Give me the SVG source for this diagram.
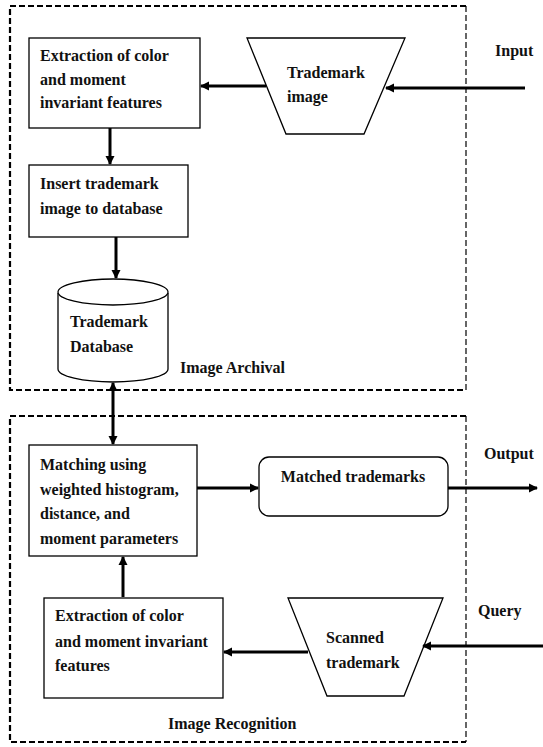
<svg xmlns="http://www.w3.org/2000/svg" width="543" height="747" viewBox="0 0 543 747">
<defs>
<style>
.t{font-family:"Liberation Serif","Times New Roman",serif;font-size:16px;font-weight:bold;fill:#111;}
.n{fill:#fff;stroke:#000;stroke-width:1.3;}
.c{stroke:#000;stroke-width:3;fill:none;}
.d{fill:none;stroke:#000;stroke-dasharray:6,3;}
</style>
<marker id="ah" markerWidth="10" markerHeight="10" refX="8" refY="5" orient="auto-start-reverse" markerUnits="userSpaceOnUse">
<path d="M0,0.5 L9,5 L0,9.5 Z" fill="#000"/>
</marker>
</defs>
<rect width="543" height="747" fill="#fff"/>
<g id="archival">
<path class="d" d="M466,6 L10,6 L10,390 L466,390" stroke-width="2.2"/>
<path class="d" d="M466,6 L466,390" stroke-width="1.2"/>
<text class="t" x="180" y="373">Image Archival</text>
</g>
<g id="recognition">
<path class="d" d="M466,416 L10,416 L10,742 L466,742" stroke-width="2.2"/>
<path class="d" d="M466,416 L466,742" stroke-width="1.2"/>
<text class="t" x="168" y="729">Image Recognition</text>
</g>
<g id="labels">
<text class="t" x="495" y="56">Input</text>
<text class="t" x="484" y="459">Output</text>
<text class="t" x="478" y="616">Query</text>
</g>
<g id="extract1">
<rect class="n" x="29" y="38" width="171" height="90"/>
<text class="t" x="40" y="61">Extraction of color</text>
<text class="t" x="40" y="85">and moment</text>
<text class="t" x="40" y="108">invariant features</text>
</g>
<g id="tmimage">
<path class="n" d="M247,38 L405,38 L364,134 L286,134 Z"/>
<text class="t" x="287" y="78">Trademark</text>
<text class="t" x="287" y="102">image</text>
</g>
<g id="insert">
<rect class="n" x="29" y="165" width="159" height="72"/>
<text class="t" x="40" y="189">Insert trademark</text>
<text class="t" x="40" y="214">image to database</text>
</g>
<g id="db">
<path class="n" d="M58,293 L58,369 A55,13 0 0 0 168,369 L168,293"/>
<ellipse class="n" cx="113" cy="292" rx="55" ry="13"/>
<text class="t" x="70" y="327">Trademark</text>
<text class="t" x="70" y="352">Database</text>
</g>
<g id="matching">
<rect class="n" x="29" y="445" width="168" height="111"/>
<text class="t" x="40" y="470">Matching using</text>
<text class="t" x="40" y="495">weighted histogram,</text>
<text class="t" x="40" y="519">distance, and</text>
<text class="t" x="40" y="544">moment parameters</text>
</g>
<g id="matched">
<rect class="n" x="259" y="457" width="189" height="59" rx="10"/>
<text class="t" x="353" y="482" text-anchor="middle">Matched trademarks</text>
</g>
<g id="extract2">
<rect class="n" x="44" y="598" width="179" height="100"/>
<text class="t" x="55" y="621">Extraction of color</text>
<text class="t" x="55" y="647">and moment invariant</text>
<text class="t" x="55" y="671">features</text>
</g>
<g id="scanned">
<path class="n" d="M288,598 L443,598 L404,696 L327,696 Z"/>
<text class="t" x="326" y="643">Scanned</text>
<text class="t" x="326" y="668">trademark</text>
</g>
<g id="connectors">
<line class="c" x1="525" y1="88" x2="386" y2="88" marker-end="url(#ah)"/>
<line class="c" x1="266" y1="86" x2="201" y2="86" marker-end="url(#ah)"/>
<line class="c" x1="110" y1="128" x2="110" y2="164" marker-end="url(#ah)"/>
<line class="c" x1="116" y1="237" x2="116" y2="278" marker-end="url(#ah)"/>
<line class="c" x1="113" y1="383" x2="113" y2="444" marker-start="url(#ah)" marker-end="url(#ah)"/>
<line class="c" x1="197" y1="488" x2="258" y2="488" marker-end="url(#ah)"/>
<line class="c" x1="448" y1="488" x2="537" y2="488" marker-end="url(#ah)"/>
<line class="c" x1="123" y1="597" x2="123" y2="557" marker-end="url(#ah)"/>
<line class="c" x1="543" y1="646" x2="423" y2="646" marker-end="url(#ah)"/>
<line class="c" x1="308" y1="652" x2="224" y2="652" marker-end="url(#ah)"/>
</g>
</svg>
